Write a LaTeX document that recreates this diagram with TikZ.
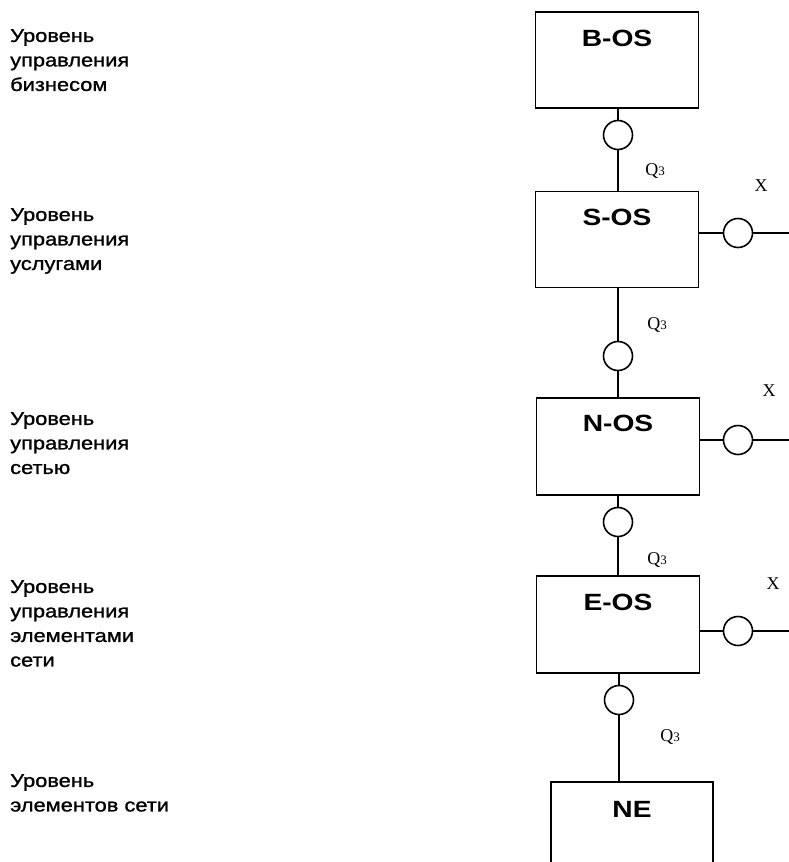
\documentclass[tikz,border=0pt]{standalone}
\usepackage{fontspec}
\setmainfont{Liberation Sans}
\newfontfamily\widesans[FakeStretch=1.18,FakeBold=1.2]{Liberation Sans}
\newfontfamily\widebold[FakeStretch=1.2]{Liberation Sans}
\newfontfamily\serifq{Liberation Serif}
\usetikzlibrary{calc}
\begin{document}
\begin{tikzpicture}[x=1pt,y=-1pt,
  box/.style={draw, line width=1.7pt, minimum width=163pt, minimum height=96pt, inner sep=0pt},
  port/.style={draw, circle, line width=1.6pt, minimum size=29pt, inner sep=0pt, fill=white},
  wire/.style={line width=1.3pt},
  lvl/.style={anchor=north west, align=left, inner sep=0pt, font=\widesans\fontsize{18.5}{24.5}\selectfont},
  oslabel/.style={anchor=base, inner sep=0pt, font=\widebold\fontsize{23.5}{27}\selectfont\bfseries},
  qlab/.style={inner sep=0pt, font=\serifq\fontsize{18}{20}\selectfont}
]
\useasboundingbox (0,0) rectangle (789,862);
% left level labels
\node[lvl] (l1) at (10,29) {Уровень\\управления\\бизнесом};
\node[lvl] (l2) at (10,208) {Уровень\\управления\\услугами};
\node[lvl] (l3) at (10,412) {Уровень\\управления\\сетью};
\node[lvl] (l4) at (10,580) {Уровень\\управления\\элементами\\сети};
\node[lvl] (l5) at (10,774) {Уровень\\элементов сети};
% boxes
\node[box] (bos) at (617,60) {};
\node[box] (sos) at (617,239.5) {};
\node[box, minimum height=97pt] (nos) at (618,446.5) {};
\node[box, minimum height=97pt] (eos) at (618,624.5) {};
\node[box, minimum height=100pt, minimum width=162pt] (ne) at (632,832) {};
\node[oslabel] (tb) at ($(bos.north)+(0,35)$) {B-OS};
\node[oslabel] (ts) at ($(sos.north)+(0,35)$) {S-OS};
\node[oslabel] (tn) at ($(nos.north)+(0,34)$) {N-OS};
\node[oslabel] (te) at ($(eos.north)+(0,35)$) {E-OS};
\node[oslabel] (tne) at ($(ne.north)+(0,36)$) {NE};
% vertical ports
\node[port] (c1) at (618,135) {};
\node[port] (c2) at (618,356) {};
\node[port] (c3) at (618,522) {};
\node[port] (c4) at (619,700) {};
% right ports
\node[port] (r1) at (738,233) {};
\node[port] (r2) at (738,440) {};
\node[port] (r3) at (738,631) {};
\coordinate (e1) at (789,233);
\coordinate (e2) at (789,440);
\coordinate (e3) at (789,631);
% wires
\draw[wire] (c1 |- bos.south) -- (c1.north);
\draw[wire] (c1.south) -- (c1 |- sos.north);
\draw[wire] (c2 |- sos.south) -- (c2.north);
\draw[wire] (c2.south) -- (c2 |- nos.north);
\draw[wire] (c3 |- nos.south) -- (c3.north);
\draw[wire] (c3.south) -- (c3 |- eos.north);
\draw[wire] (c4 |- eos.south) -- (c4.north);
\draw[wire] (c4.south) -- (c4 |- ne.north);
\draw[wire] (sos.east |- r1) -- (r1.west);
\draw[wire] (r1.east) -- (e1);
\draw[wire] (nos.east |- r2) -- (r2.west);
\draw[wire] (r2.east) -- (e2);
\draw[wire] (eos.east |- r3) -- (r3.west);
\draw[wire] (r3.east) -- (e3);
% interface labels
\node[qlab] (q1) at (655,171) {Q{\fontsize{13}{15}\selectfont 3}};
\node[qlab] (q2) at (657,325) {Q{\fontsize{13}{15}\selectfont 3}};
\node[qlab] (q3) at (657,560) {Q{\fontsize{13}{15}\selectfont 3}};
\node[qlab] (q4) at (670,737) {Q{\fontsize{13}{15}\selectfont 3}};
\node[qlab] (x1) at (761,186) {X};
\node[qlab] (x2) at (769,391) {X};
\node[qlab] (x3) at (773,584) {X};
\end{tikzpicture}
\end{document}
